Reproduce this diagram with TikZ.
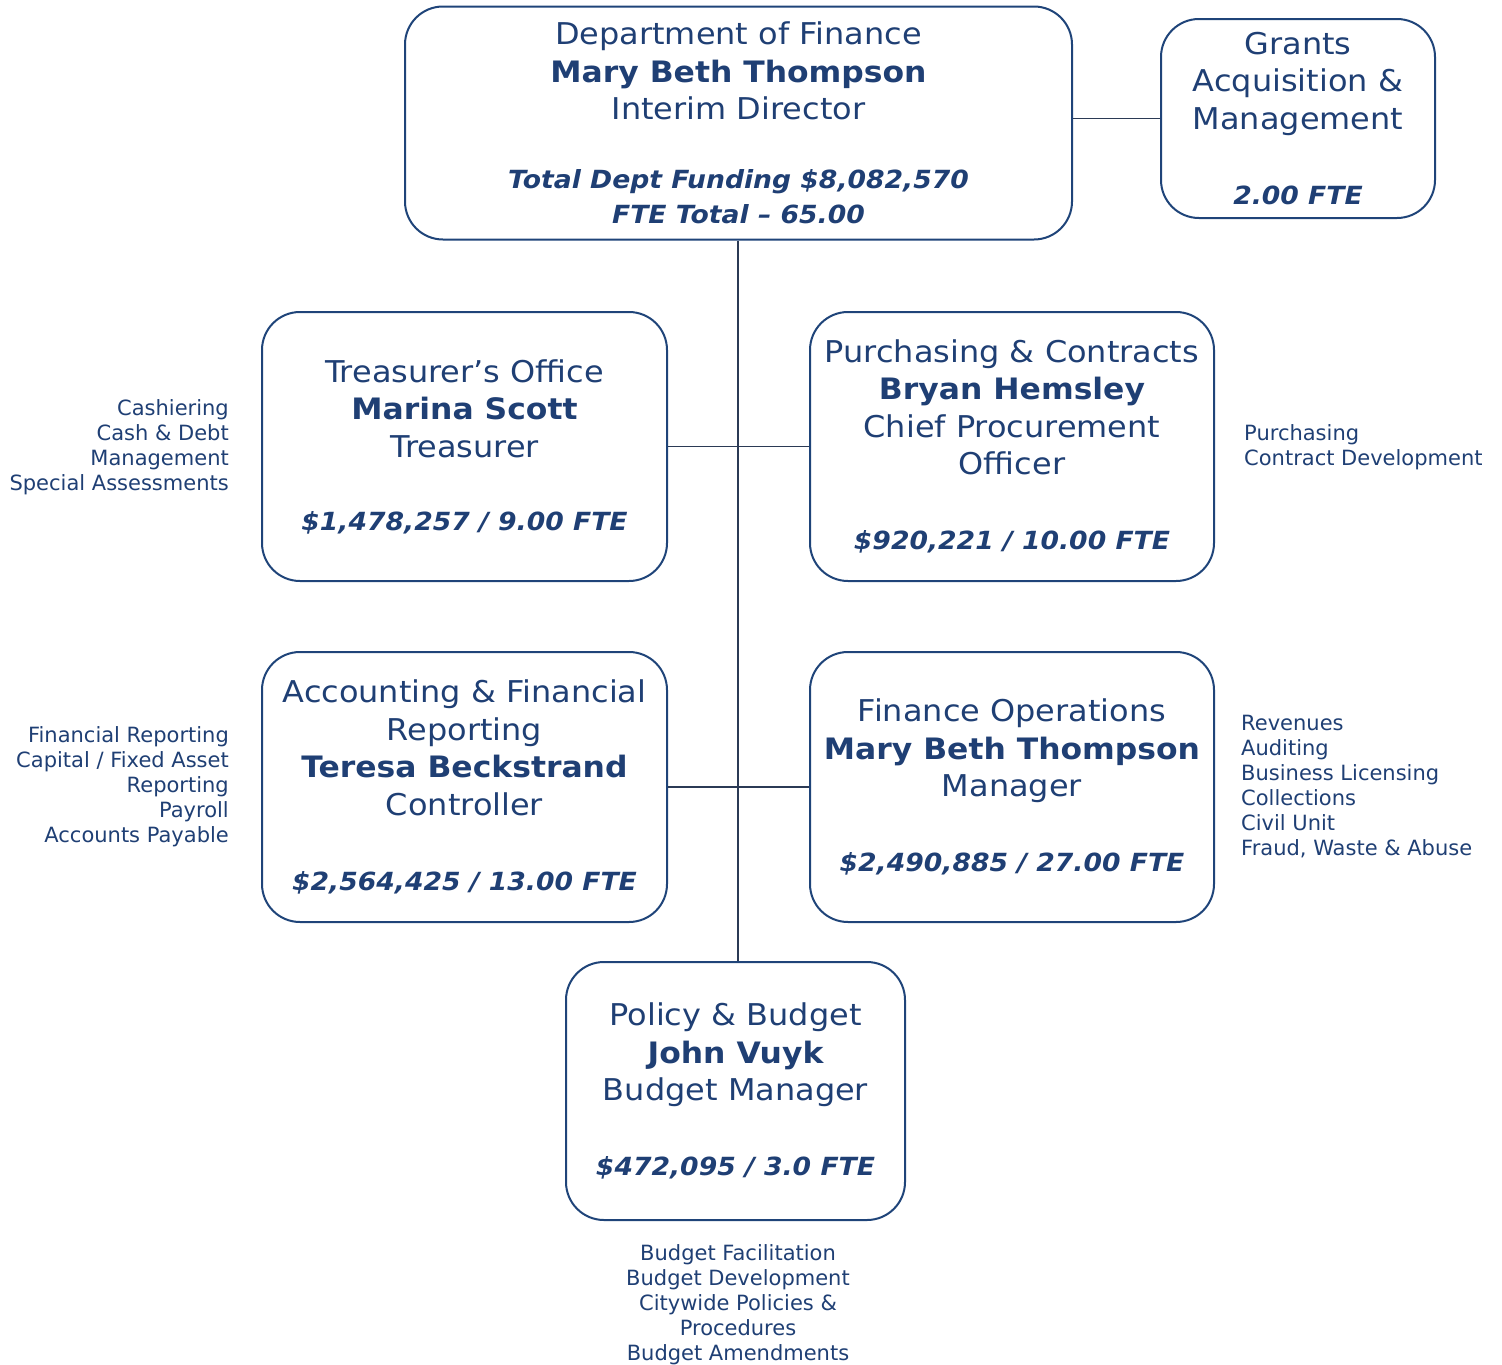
\documentclass[tikz,border=0pt]{standalone}
\usepackage{fontspec}
\setmainfont[FakeStretch=1.065]{DejaVu Sans}
\newfontfamily\notefont{DejaVu Sans}
\definecolor{navy}{HTML}{1F3F74}
\definecolor{boxblue}{HTML}{1F4479}
\definecolor{linecol}{HTML}{2B3A55}
\newcommand{\amt}[1]{{\fontsize{25}{37.5}\selectfont\bfseries\itshape #1}}
\newcommand{\who}[1]{{\fontsize{29.5}{37.5}\selectfont\bfseries #1}}
\begin{document}
\begin{tikzpicture}[x=1pt,y=-1pt,
  unit/.style={draw=boxblue, line width=2pt, rounded corners=38pt, align=center,
    text=navy, inner sep=0pt, font=\fontsize{30}{37.5}\selectfont},
  note/.style={text=navy, inner sep=0pt, font=\notefont\fontsize{21}{25}\selectfont},
  link/.style={draw=linecol, line width=1.5pt}]
\useasboundingbox (0,0) rectangle (1502,1365);

% units
\node[unit, minimum width=667pt, minimum height=233pt] (dept) at (738.5,123)
  {Department of Finance\\ \who{Mary Beth Thompson}\\ Interim Director\\[31pt]
   \amt{Total Dept Funding \$8,082,570}\\[-2.5pt] \amt{FTE Total – 65.00}};
\node[unit, minimum width=274pt, minimum height=199pt] (grants) at (1298,118.5)
  {Grants\\ Acquisition \&\\ Management\\[37.5pt] \amt{2.00 FTE}};
\node[unit, minimum width=405pt, minimum height=269pt] (treas) at (464.5,446.5)
  {Treasurer’s Office\\ \who{Marina Scott}\\ Treasurer\\[35.5pt] \amt{\$1,478,257 / 9.00 FTE}};
\node[unit, minimum width=404pt, minimum height=269pt] (purch) at (1012,446.5)
  {Purchasing \& Contracts\\ \who{Bryan Hemsley}\\ Chief Procurement\\ Officer\\[37.5pt]
   \amt{\$920,221 / 10.00 FTE}};
\node[unit, minimum width=405pt, minimum height=270pt] (acct) at (464.5,787)
  {Accounting \& Financial\\ Reporting\\ \who{Teresa Beckstrand}\\ Controller\\[37.5pt]
   \amt{\$2,564,425 / 13.00 FTE}};
\node[unit, minimum width=404pt, minimum height=270pt] (fops) at (1012,787)
  {Finance Operations\\ \who{Mary Beth Thompson}\\ Manager\\[37.5pt]
   \amt{\$2,490,885 / 27.00 FTE}};
\node[unit, minimum width=339pt, minimum height=258pt] (policy) at (735.5,1091)
  {Policy \& Budget\\ \who{John Vuyk}\\ Budget Manager\\[37.5pt]
   \amt{\$472,095 / 3.0 FTE}};

% functions of each unit
\node[note, align=right, anchor=east] (treasnote) at (229,447)
  {Cashiering\\ Cash \& Debt\\ Management\\ Special Assessments};
\node[note, align=left, anchor=west] (purchnote) at (1244,447)
  {Purchasing\\ Contract Development};
\node[note, align=right, anchor=east] (acctnote) at (229,787)
  {Financial Reporting\\ Capital / Fixed Asset\\ Reporting\\ Payroll\\ Accounts Payable};
\node[note, align=left, anchor=west] (fopsnote) at (1241,787)
  {Revenues\\ Auditing\\ Business Licensing\\ Collections\\ Civil Unit\\ Fraud, Waste \& Abuse};
\node[note, align=center] (policynote) at (738,1305)
  {Budget Facilitation\\ Budget Development\\ Citywide Policies \&\\ Procedures\\ Budget Amendments};

% reporting lines
\coordinate (trunk) at (738,0);
\draw[link] (dept.south -| trunk) -- (policy.north -| trunk);
\draw[link] (treas.east) -- (purch.west);
\draw[link] (acct.east) -- (fops.west);
\draw[link] (grants.west) -- (grants.west -| dept.east);
\end{tikzpicture}
\end{document}
